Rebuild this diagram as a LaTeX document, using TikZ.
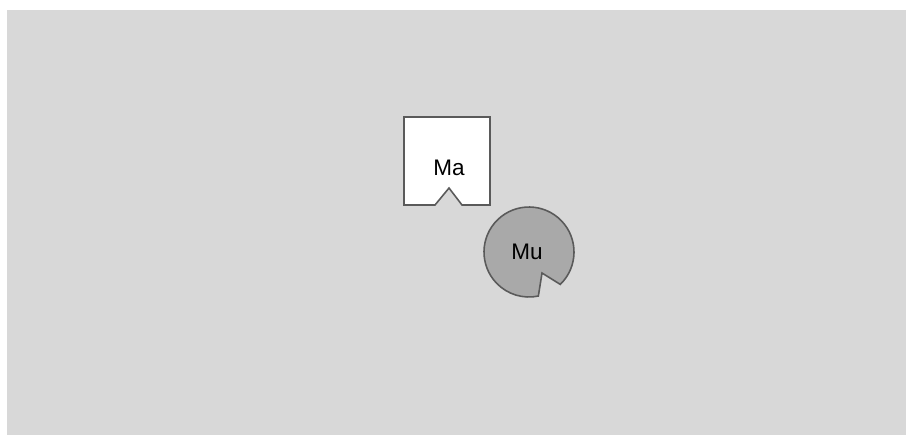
\documentclass[tikz,border=0pt]{standalone}
\usepackage{fontspec}
\setmainfont{Liberation Sans}
\usepackage{tikz}
\usetikzlibrary{calc}
\definecolor{Page}{HTML}{D8D8D8}
\definecolor{Disc}{HTML}{A9A9A9}
\definecolor{Rim}{HTML}{5A5A5A}

\begin{document}
\begin{tikzpicture}[x=0.01cm, y=0.01cm, font=\fontsize{6.4}{7}\selectfont]
\tikzset{outline/.style={draw=Rim, line width=0.45pt, line join=miter}, tag/.style={inner sep=0pt, text=black}}
\useasboundingbox (0,0) rectangle (906,435);
\fill[Page] (7,0) rectangle (906,425);
% Ma: square with a notch in its bottom side
\draw[outline, fill=white] (404,318) -- (490,318) -- (490,230) -- (462,230) -- (449,247) -- (435,230) -- (404,230) -- cycle;
\node[tag] (ma) at (449,267) {Ma};
% Mu: disc with a wedge cut out
\draw[outline, fill=Disc] ($(529,183)+(-46:45)$) arc[start angle=-46, end angle=282, radius=45] -- (542,162) -- cycle;
\node[tag] (mu) at (527,183) {Mu};
\end{tikzpicture}
\end{document}
